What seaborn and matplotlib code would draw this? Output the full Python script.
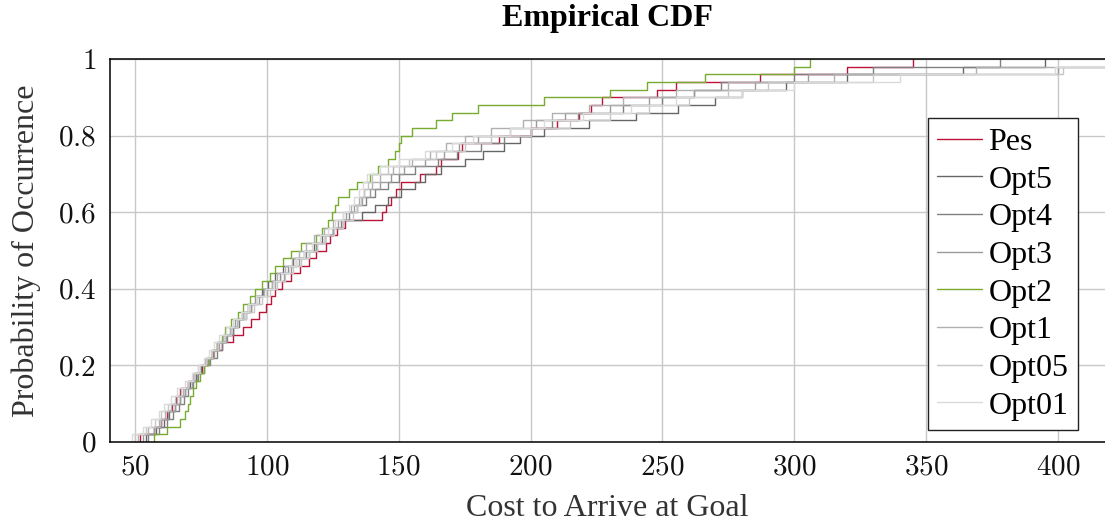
import numpy as np
import pandas as pd
import matplotlib
matplotlib.use("Agg")
import matplotlib.pyplot as plt
import seaborn as sns
from matplotlib.ticker import FuncFormatter

pes = [52, 57, 60, 62, 64, 65.5, 67, 70, 72.5, 75.5, 77.5, 79.6, 83, 87, 91, 94, 97, 99.5, 101.5, 103,
       105.6, 109, 112.5, 116, 118.8, 122.5, 124, 126.5, 129.5, 143.5, 145, 147, 149, 151, 158, 164, 166,
       172.5, 174, 188, 200, 210, 218.5, 223, 227, 248, 255, 287, 320, 345]
opt5 = [54, 58, 61, 63, 65, 67, 69, 71, 73, 75, 77, 79, 81, 84, 87, 89.5, 92, 94, 96, 98,
        100.5, 103, 106, 110, 114, 118, 121, 125, 129, 136, 141, 146, 151, 156, 160, 166, 175,
        182, 190, 196, 205, 222, 240, 256, 270, 280, 297, 320, 364, 395]
opt4 = [55, 59, 62, 64.5, 66.5, 68.5, 70, 72, 74, 76, 78.5, 81, 83, 85, 87, 89, 91, 93, 95.5, 98.5,
        102, 105, 108, 111, 115, 118.5, 122, 125, 128, 131, 134, 137.5, 141, 146, 150, 156, 165,
        172, 181, 190, 200, 208, 218, 235, 250, 262, 272, 300, 330, 378]
opt3 = [53, 57, 60, 62.5, 65, 67, 69, 71.5, 73.5, 76, 78, 80, 82, 84.5, 86, 88, 91, 94, 97, 100,
        103, 106.5, 109, 112, 116, 119, 122, 125, 127, 130, 133, 136, 139, 143, 147, 152, 160,
        167, 173, 180, 192, 202, 213, 230, 245, 262, 285, 305, 400, 450]
opt2 = [57, 62, 67, 69, 70, 71, 72, 73, 74.5, 76, 77.5, 79, 81, 83, 84, 86.5, 89, 91, 93.5, 95.5,
        98, 101, 103, 106, 109, 113, 118.5, 121, 123, 124.6, 126, 127, 131, 134, 139, 142, 146,
        148.5, 150, 151, 155, 164, 170, 180, 205, 230, 244, 266, 300, 306]
opt1 = [51, 55, 59, 61.5, 63.5, 66, 68, 70, 72, 74, 76.5, 79, 81, 83.5, 86, 88.5, 91, 93, 96, 99,
        102, 104, 107, 109.5, 112, 115, 118, 121.5, 125, 129, 132, 135, 137, 140, 143, 148, 155,
        162, 168, 175, 185, 197, 208, 222, 235, 255, 275, 315, 369, 440]
opt05 = [50, 54, 57.5, 60, 62.5, 65, 67.5, 70, 72.5, 74.5, 77, 79, 81.5, 84, 86.5, 89, 92, 95, 98, 101,
         104, 107, 110, 113, 116, 119, 122, 125.5, 129, 132.5, 134, 135.5, 137, 138.5, 140, 146, 154,
         164, 175, 185, 200, 215, 230, 245, 260, 275, 290, 330, 402, 460]
opt01 = [49, 53, 56, 59, 61, 63.5, 66, 69, 71.5, 74, 76, 78, 80, 82, 84.5, 87, 90, 93, 96, 99.5,
         102.5, 105.5, 108.5, 111, 114, 117, 120, 123, 126, 129, 131, 133, 135, 136.5, 138, 143, 150,
         160, 170, 178, 192, 205, 220, 238, 255, 280, 300, 340, 399, 470]

series_names = ["Pes", "Opt5", "Opt4", "Opt3", "Opt2", "Opt1", "Opt05", "Opt01"]
series_values = [pes, opt5, opt4, opt3, opt2, opt1, opt05, opt01]
series_colors = ["#bb1438", "#666666", "#808080", "#9a9a9a", "#77ac30", "#b0b0b0", "#c6c6c6", "#dadada"]

x_ticks = [50, 100, 150, 200, 250, 300, 350, 400]
y_ticks = [0, 0.2, 0.4, 0.6, 0.8, 1]

df = pd.DataFrame({
    "cost": np.concatenate([np.asarray(v, float) for v in series_values]),
    "series": np.repeat(series_names, [len(v) for v in series_values]),
})

sns.set_style("white")
plt.rcParams["font.family"] = ["Liberation Serif", "DejaVu Serif"]
plt.rcParams["mathtext.fontset"] = "cm"

fig = plt.figure(figsize=(11.05, 5.24), dpi=100)
ax = fig.add_axes([110 / 1105, 1 - 442 / 524, 995 / 1105, 383 / 524])

for name, color in zip(series_names, series_colors):
    sns.ecdfplot(data=df[df["series"] == name], x="cost", ax=ax, color=color,
                 linewidth=1.0, label=name)

ax.set_xlim(40.5, 417.8)
ax.set_ylim(0, 1)
ax.set_xticks(x_ticks)
ax.set_yticks(y_ticks)
ax.xaxis.set_major_formatter(FuncFormatter(lambda v, p: f"${v:g}$"))
ax.yaxis.set_major_formatter(FuncFormatter(lambda v, p: f"${v:g}$"))
ax.tick_params(axis="both", direction="in", length=5, width=1, color="#888888",
               labelsize=21, labelcolor="#111111")
ax.tick_params(axis="x", pad=9)
ax.tick_params(axis="y", pad=10)
ax.grid(True, color="#c8c8c8", linewidth=1.0)
ax.set_axisbelow(True)

for side in ["left", "bottom", "top"]:
    ax.spines[side].set_visible(True)
    ax.spines[side].set_color("black")
    ax.spines[side].set_linewidth(1.1)
ax.spines["right"].set_visible(False)

ax.set_xlabel("Cost to Arrive at Goal", fontsize=23, labelpad=10, color="#333333")
ax.set_ylabel("Probability of Occurrence", fontsize=23, labelpad=12, color="#333333")
ax.set_title("Empirical CDF", fontsize=23, fontweight="bold", pad=24, color="black")

leg = ax.legend(loc="lower right", bbox_to_anchor=(0.973, 0.031), borderaxespad=0,
                fontsize=23, frameon=True, fancybox=False, edgecolor="#222222",
                handlelength=1.4, handletextpad=0.2, labelspacing=0.26, borderpad=0.3)
leg.get_frame().set_linewidth(1.0)
leg.get_frame().set_alpha(1)
for t in leg.get_texts():
    t.set_color("black")

fig.savefig("out.png", dpi=100)
